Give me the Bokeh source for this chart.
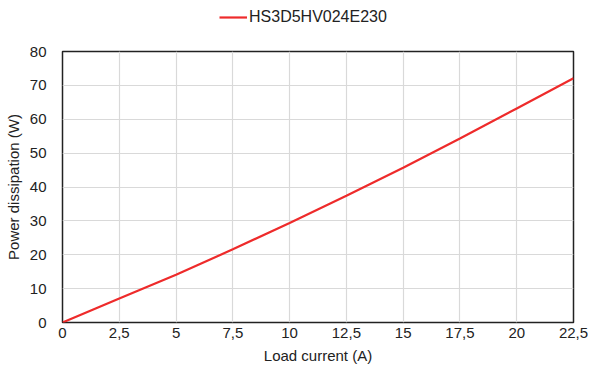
from bokeh.plotting import figure
from bokeh.layouts import column
from bokeh.models import Legend, LegendItem, FixedTicker, Range1d
from bokeh.embed import file_html
from bokeh.resources import INLINE

# Data
load_current = [0, 2.5, 5, 7.5, 10, 12.5, 15, 17.5, 20, 22.5]
power_dissipation = [0, 7.1, 14.1, 21.6, 29.4, 37.4, 45.7, 54.3, 63.2, 72.1]
series_name = "HS3D5HV024E230"

x_ticks = [0, 2.5, 5, 7.5, 10, 12.5, 15, 17.5, 20, 22.5]
x_tick_labels = ["0", "2,5", "5", "7,5", "10", "12,5", "15", "17,5", "20", "22,5"]
y_ticks = [0, 10, 20, 30, 40, 50, 60, 70, 80]

FONT = "Liberation Sans"
TEXT_COLOR = "#222222"
LINE_COLOR = "#ee2b2b"
W = 588
LEG_H = 36
MAIN_H = 369 - LEG_H

# ---- legend strip (a frame-only figure holding the legend) ----
# Its ranges lie outside the data, so the series itself stays out of view here;
# only the legend sample of the same line style is shown.
leg = figure(width=W, height=LEG_H, output_backend="svg", toolbar_location=None,
             x_range=Range1d(100, 101), y_range=Range1d(100, 101),
             x_axis_location=None, y_axis_location=None,
             min_border=0, min_border_left=0, min_border_right=0,
             min_border_top=0, min_border_bottom=0)
leg.outline_line_color = None
leg.xgrid.visible = False
leg.ygrid.visible = False
leg.background_fill_color = "white"
leg.border_fill_color = "white"
leg_r = leg.line(load_current, power_dissipation, line_color=LINE_COLOR, line_width=2.2)
legend = Legend(items=[LegendItem(label=series_name, renderers=[leg_r])],
                location=(157, 10), orientation="horizontal",
                padding=0, margin=0, spacing=0,
                glyph_width=28, glyph_height=16, label_height=16, label_standoff=2,
                label_text_font=FONT, label_text_font_size="16px",
                label_text_color=TEXT_COLOR, label_text_baseline="middle",
                border_line_color=None, background_fill_alpha=0)
leg.add_layout(legend, "center")

# ---- main chart ----
p = figure(width=W, height=MAIN_H, output_backend="svg", toolbar_location=None,
           x_range=Range1d(0, 22.5), y_range=Range1d(0, 80),
           min_border_left=62, min_border_right=15,
           min_border_top=51 - LEG_H, min_border_bottom=47)

p.outline_line_color = "#222222"
p.outline_line_width = 1.5
p.background_fill_color = "white"
p.border_fill_color = "white"

p.line(load_current, power_dissipation, line_color=LINE_COLOR, line_width=2.2)

p.xaxis.ticker = FixedTicker(ticks=x_ticks)
p.xaxis.major_label_overrides = {t: l for t, l in zip(x_ticks, x_tick_labels)}
p.yaxis.ticker = FixedTicker(ticks=y_ticks)

for ax in (p.xaxis[0], p.yaxis[0]):
    ax.axis_line_color = None
    ax.major_tick_line_color = None
    ax.minor_tick_line_color = None
    ax.major_tick_out = 0
    ax.major_tick_in = 0
    ax.major_label_text_font = FONT
    ax.major_label_text_font_size = "15px"
    ax.major_label_text_color = TEXT_COLOR
    ax.axis_label_text_font = FONT
    ax.axis_label_text_font_size = "15px"
    ax.axis_label_text_font_style = "normal"
    ax.axis_label_text_color = TEXT_COLOR

p.xaxis.axis_label = "Load current (A)"
p.yaxis.axis_label = "Power dissipation (W)"
p.xaxis.major_label_standoff = 5
p.xaxis.axis_label_standoff = 6
p.yaxis.major_label_standoff = 16
p.yaxis.axis_label_standoff = 5

p.xgrid.grid_line_color = "#d9d9d9"
p.ygrid.grid_line_color = "#d9d9d9"
p.xgrid.grid_line_width = 1.2
p.ygrid.grid_line_width = 1.2

layout = column(leg, p, spacing=0)
open("out.html", "w").write(file_html(layout, INLINE))
